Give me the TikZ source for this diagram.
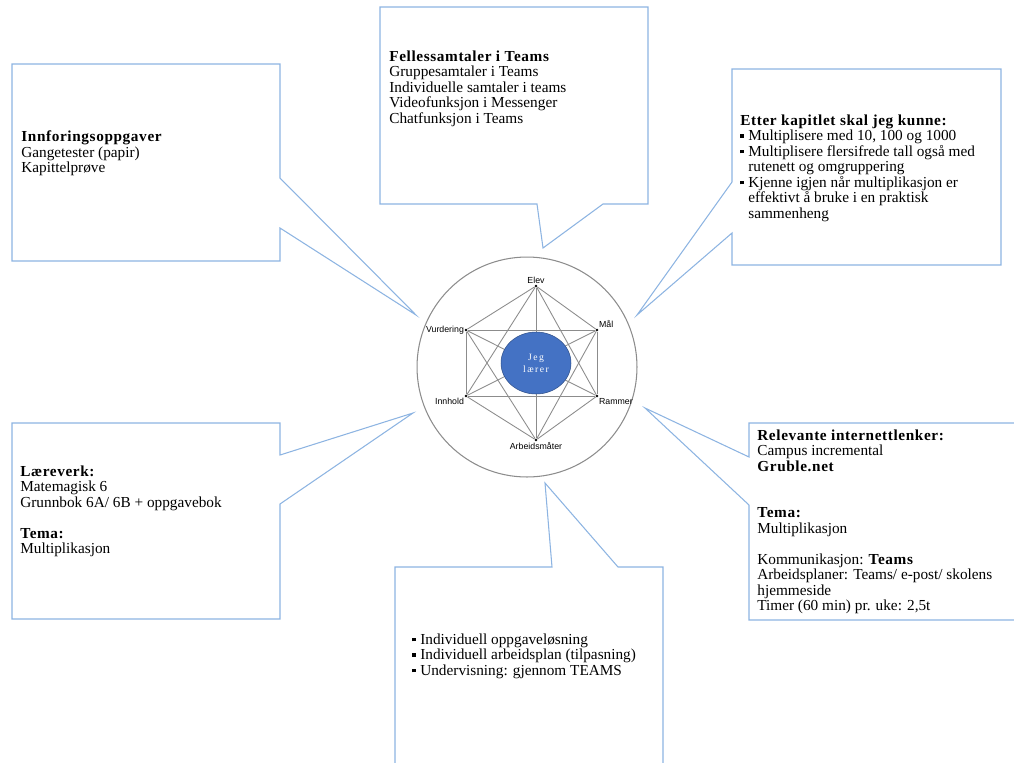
\documentclass[tikz,border=0pt]{standalone}
\usepackage{fontspec}
\usetikzlibrary{shapes.geometric}
\setmainfont{Liberation Serif}
\newfontfamily\lblfont{Liberation Sans}
\definecolor{boxblue}{HTML}{8DB4E2}
\definecolor{jegblue}{HTML}{4472C4}
\definecolor{stargray}{HTML}{8C8C8C}
\newcommand\hd[1]{{\bfseries\addfontfeatures{LetterSpace=4}#1}}
\newcommand\sq{\rule[0.2em]{0.24em}{0.24em}\hspace{0.28em}}
\begin{document}
\begin{tikzpicture}[x=0.02cm,y=-0.02cm,
    callout/.style={draw=boxblue,line width=0.6pt,fill=white,line join=miter},
    txt/.style={anchor=north west,inner sep=0pt,align=left,font=\fontsize{8.7}{8.8}\selectfont},
    lbl/.style={font=\lblfont\fontsize{5}{5}\selectfont,inner sep=1pt},
    vx/.style={circle,fill=black,inner sep=0pt,minimum size=1.5pt}]
    \useasboundingbox (0,0) rectangle (1014,762);
    \draw[callout] (12,64) -- (280,64) -- (280,178) -- (416,315) -- (280,228) -- (280,261) -- (12,261) -- cycle;
    \draw[callout] (380,7) -- (648,7) -- (648,204) -- (603,204) -- (543,248) -- (537,204) -- (380,204) -- cycle;
    \draw[callout] (732,69) -- (1001,69) -- (1001,265) -- (732,265) -- (732,233) -- (637,315) -- (732,182) -- cycle;
    \draw[callout] (12,423) -- (280,423) -- (280,455) -- (413,413) -- (280,504) -- (280,619) -- (12,619) -- cycle;
    \draw[callout] (749,423) -- (1030,423) -- (1030,620) -- (749,620) -- (749,505) -- (645,408) -- (749,457) -- cycle;
    \draw[callout] (395,567) -- (552,567) -- (545,483) -- (618,567) -- (663,567) -- (663,780) -- (395,780) -- cycle;
    \node[txt] (innf) at (21,130.5) {\hd{Innforingsoppgaver}\\Gangetester (papir)\\Kapittelprøve};
    \node[txt] (felles) at (389,50.5) {\hd{Fellessamtaler i Teams}\\Gruppesamtaler i Teams\\Individuelle samtaler i teams\\Videofunksjon i Messenger\\Chatfunksjon i Teams};
    \node[txt] (maal) at (740,114.5) {\hd{Etter kapitlet skal jeg kunne:}\\\sq Multiplisere med 10, 100 og 1000\\\sq Multiplisere flersifrede tall også med\\\hspace{0.52em}rutenett og omgruppering\\\sq Kjenne igjen når multiplikasjon er\\\hspace{0.52em}effektivt å bruke i en praktisk\\\hspace{0.52em}sammenheng};
    \node[txt] (laere) at (20,465.5) {\hd{Læreverk:}\\Matemagisk 6\\Grunnbok 6A/ 6B + oppgavebok\\[8.8pt]\hd{Tema:}\\Multiplikasjon};
    \node[txt] (lenker) at (757,429.5) {\hd{Relevante internettlenker:}\\Campus incremental\\\hd{Gruble.net}\\[17.6pt]\hd{Tema:}\\Multiplikasjon\\[8.8pt]Kommunikasjon: \hd{Teams}\\Arbeidsplaner: Teams/ e-post/ skolens\\hjemmeside\\Timer (60 min) pr. uke: 2,5t};
    \node[txt] (arbeid) at (412,633.5) {\sq Individuell oppgaveløsning\\\sq Individuell arbeidsplan (tilpasning)\\\sq Undervisning: gjennom TEAMS};
    \draw[stargray,line width=0.6pt] (527,367) circle [radius=2.2cm];
    \node[vx] (elev) at (536,286) {};
    \node[vx] (mal) at (597,330) {};
    \node[vx] (rammer) at (597,396) {};
    \node[vx] (arb) at (536,440) {};
    \node[vx] (innhold) at (466,396) {};
    \node[vx] (vurd) at (466,330) {};
    \foreach \a/\b in {elev/mal,elev/rammer,elev/arb,elev/innhold,elev/vurd,mal/rammer,mal/arb,mal/innhold,mal/vurd,rammer/arb,rammer/innhold,rammer/vurd,arb/innhold,arb/vurd,innhold/vurd}
        \draw[stargray,line width=0.5pt] (\a) -- (\b);
    \node[ellipse,fill=jegblue,draw=jegblue!70!black,line width=0.3pt,minimum width=1.4cm,minimum height=1.24cm,
        text=white,align=center,font=\fontsize{5.5}{6.8}\selectfont\addfontfeatures{LetterSpace=15}] (jeg) at (536,363) {Jeg\\lærer};
    \node[lbl,above] at (elev) {Elev};
    \node[lbl,above right] at (mal) {Mål};
    \node[lbl,left] at (vurd) {Vurdering};
    \node[lbl,below left] at (innhold) {Innhold};
    \node[lbl,below right] at (rammer) {Rammer};
    \node[lbl,below] at (arb) {Arbeidsmåter};
\end{tikzpicture}
\end{document}
